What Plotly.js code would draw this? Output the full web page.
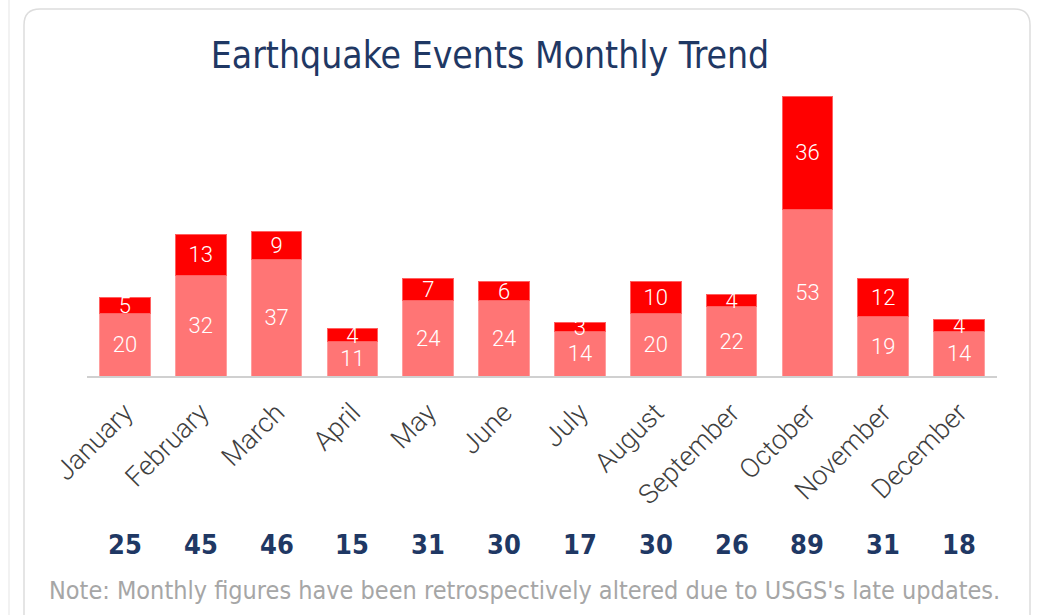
<!DOCTYPE html>
<html>
<head>
<meta charset="utf-8">
<script src="https://cdn.plot.ly/plotly-3.0.1.min.js"></script>
<style>
html,body{margin:0;padding:0;background:#fff;}
#chart{width:1039px;height:615px;}
</style>
</head>
<body>
<div id="chart"></div>
<script>
const months = ["January","February","March","April","May","June","July","August","September","October","November","December"];
const baseEvents = [20,32,37,11,24,24,14,20,22,53,19,14];
const addedEvents = [5,13,9,4,7,6,3,10,4,36,12,4];
const totals = [25,45,46,15,31,30,17,30,26,89,31,18];
const titleText = "Earthquake Events Monthly Trend";
const noteText = "Note: Monthly figures have been retrospectively altered due to USGS's late updates.";

const condensed = "'Liberation Sans Narrow','DejaVu Sans Condensed','Roboto Condensed',Roboto,sans-serif";
const labelFont = {family: "Roboto, sans-serif", size: 22, weight: 300, color: "#ffffff"};

const traces = [
  {
    type: "bar", x: months, y: baseEvents, name: "Base",
    marker: {color: "#FF7575", line: {color: "#FF9E9E", width: 1}},
    text: baseEvents.map(String), textposition: "inside", insidetextanchor: "middle",
    textangle: 0, constraintext: "none", textfont: labelFont, hoverinfo: "skip"
  },
  {
    type: "bar", x: months, y: addedEvents, name: "Added",
    marker: {color: "#FF0000", line: {color: "#FF6060", width: 1}},
    text: addedEvents.map(String), textposition: "inside", insidetextanchor: "middle",
    textangle: 0, constraintext: "none", textfont: labelFont, hoverinfo: "skip"
  }
];

const W = 910, H = 280, L = 87, T = 96;
function px(x){ return (x - L) / W; }
function py(y){ return (T + H - y) / H; }

const annotations = months.map((m, i) => ({
  x: m, xref: "x", y: py(544), yref: "paper", text: "<b>" + totals[i] + "</b>",
  showarrow: false, xanchor: "center", yanchor: "middle",
  font: {family: condensed, size: 27, color: "#1F3864"}
}));
annotations.push({
  x: px(524), xref: "paper", y: py(590), yref: "paper", text: noteText,
  showarrow: false, xanchor: "center", yanchor: "middle",
  font: {family: condensed, size: 25, color: "#A6A6A6"}
});

const r = 16;
const x0 = px(24), x1 = px(1030), y0 = py(9), y1 = py(640);
const rx = r / W, ry = r / H;
const border = `M ${x0} ${y1} L ${x0} ${y0 - ry} Q ${x0} ${y0} ${x0 + rx} ${y0} L ${x1 - rx} ${y0} Q ${x1} ${y0} ${x1} ${y0 - ry} L ${x1} ${y1}`;

const layout = {
  width: 1039, height: 615,
  margin: {l: L, r: 1039 - L - W, t: T, b: 615 - T - H, pad: 0},
  paper_bgcolor: "#ffffff", plot_bgcolor: "#ffffff",
  barmode: "stack", bargap: 0.33, showlegend: false,
  title: {
    text: titleText, x: 490 / 1039, xanchor: "center", xref: "container",
    y: 1 - 55 / 615, yanchor: "middle", yref: "container",
    font: {family: condensed, size: 37, color: "#1F3864"}
  },
  xaxis: {
    type: "category", range: [-0.5, 11.5], tickangle: -45,
    tickfont: {family: "Roboto, sans-serif", size: 27, weight: 300, color: "#404040"},
    ticklabelstandoff: 8,
    showline: true, linecolor: "#D0D0D0", linewidth: 2, ticks: "", showgrid: false,
    zeroline: false, fixedrange: true
  },
  yaxis: {
    range: [0, 89], visible: false, showgrid: false, zeroline: false, fixedrange: true
  },
  annotations: annotations,
  shapes: [
    {type: "path", xref: "paper", yref: "paper", path: border, line: {color: "#DDDDDD", width: 1.5}},
    {type: "line", xref: "paper", yref: "paper", x0: px(9), x1: px(9), y0: py(0), y1: py(615), line: {color: "#EEEEEE", width: 1.5}}
  ]
};

Plotly.newPlot("chart", traces, layout, {staticPlot: true, displayModeBar: false});
</script>
</body>
</html>
